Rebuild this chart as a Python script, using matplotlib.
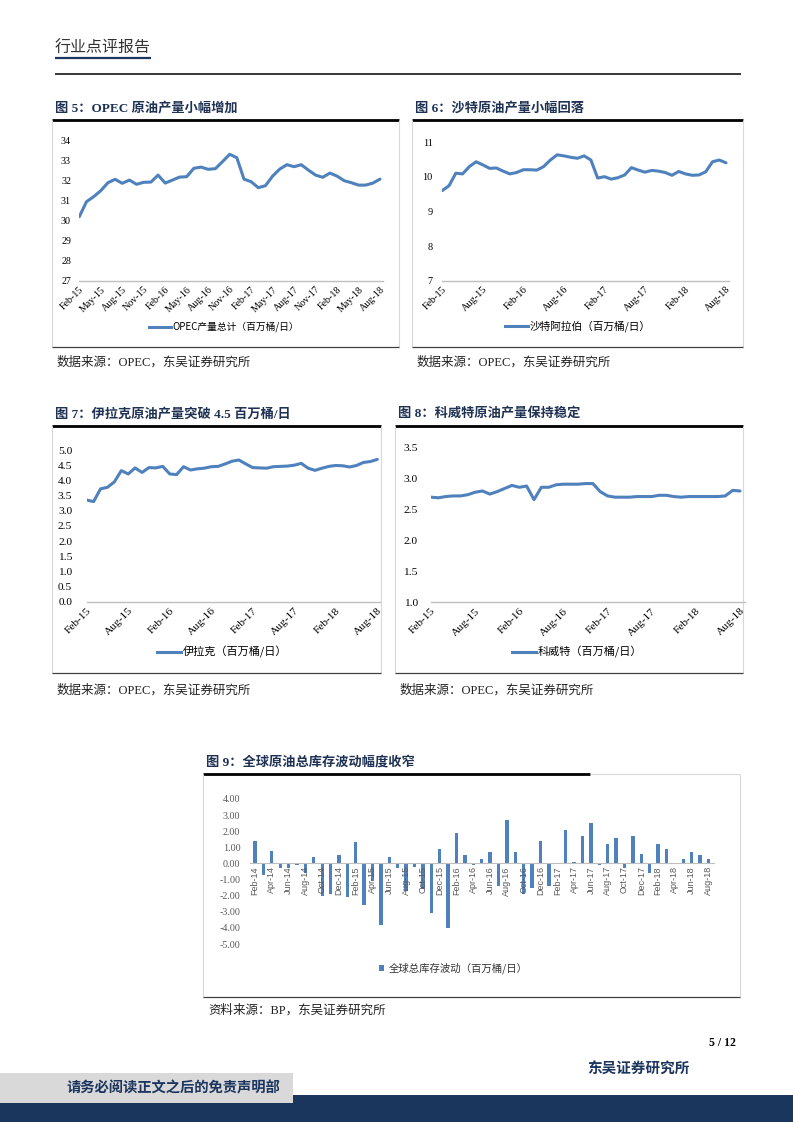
import matplotlib
matplotlib.use('Agg')
import matplotlib.pyplot as plt
from matplotlib.lines import Line2D
from matplotlib.patches import Rectangle
from matplotlib.font_manager import FontProperties

plt.rcParams['font.family'] = ['Liberation Serif', 'Noto Sans CJK SC']

# ---------------- data ----------------
mon = ['Jan', 'Feb', 'Mar', 'Apr', 'May', 'Jun', 'Jul', 'Aug', 'Sep', 'Oct', 'Nov', 'Dec']
line_months = [f'{m}-{y}' for y in (15, 16, 17, 18) for m in mon][1:44]   # Feb-15 .. Aug-18
bar_months = [f'{m}-{y}' for y in (14, 15, 16, 17, 18) for m in mon][1:56]  # Feb-14 .. Aug-18

opec = [30.2, 30.95, 31.2, 31.5, 31.9, 32.07, 31.87, 32.03, 31.82, 31.92, 31.93,
        32.28, 31.88, 32.03, 32.18, 32.2, 32.62, 32.68, 32.57, 32.6, 32.95, 33.32,
        33.15, 32.08, 31.95, 31.65, 31.75, 32.23, 32.58, 32.8, 32.7, 32.8, 32.53,
        32.28, 32.17, 32.38, 32.23, 32.0, 31.9, 31.78, 31.78, 31.88, 32.08]
saudi = [9.6, 9.74, 10.1, 10.08, 10.29, 10.43, 10.34, 10.24, 10.25, 10.16, 10.08,
         10.12, 10.2, 10.2, 10.19, 10.29, 10.48, 10.63, 10.6, 10.56, 10.53, 10.6,
         10.48, 9.96, 10.0, 9.93, 9.97, 10.05, 10.26, 10.19, 10.13, 10.18, 10.16,
         10.12, 10.04, 10.15, 10.08, 10.04, 10.05, 10.14, 10.43, 10.48, 10.4]
iraq = [3.35, 3.3, 3.72, 3.77, 3.95, 4.32, 4.21, 4.41, 4.26, 4.42, 4.41, 4.46,
        4.21, 4.19, 4.45, 4.34, 4.38, 4.4, 4.45, 4.46, 4.54, 4.63, 4.67, 4.54,
        4.42, 4.41, 4.4, 4.45, 4.46, 4.47, 4.5, 4.56, 4.4, 4.33, 4.4, 4.46,
        4.49, 4.48, 4.44, 4.49, 4.59, 4.62, 4.69]
kuwait = [2.70, 2.69, 2.71, 2.72, 2.72, 2.74, 2.78, 2.80, 2.75, 2.79, 2.84, 2.89,
          2.86, 2.88, 2.66, 2.86, 2.86, 2.90, 2.91, 2.91, 2.91, 2.92, 2.92, 2.79,
          2.72, 2.70, 2.70, 2.70, 2.71, 2.71, 2.71, 2.73, 2.73, 2.71, 2.70, 2.71,
          2.71, 2.71, 2.71, 2.71, 2.72, 2.81, 2.80]
inventory = [1.4, -0.7, 0.8, -0.3, -0.3, -0.1, -0.6, 0.4, -2.0, -1.9, 0.5,
             -2.1, 1.3, -2.6, -1.1, -3.8, 0.4, -0.3, -1.7, -0.2, -1.6, -3.1, 0.9,
             -4.0, 1.9, 0.5, -0.1, 0.3, 0.7, -1.4, 2.7, 0.7, -1.9, -1.5, 1.4,
             -1.4, 0.0, 2.1, 0.1, 1.7, 2.5, -0.1, 1.2, 1.6, -0.3, 1.7, 0.6,
             -0.6, 1.2, 0.9, 0.0, 0.3, 0.7, 0.5, 0.3]

# ---------------- page ----------------
W, H = 793, 1122
BLUE = '#4F81BD'
NAVY = '#1c355e'
TITLE_C = '#1f3254'
fig = plt.figure(figsize=(W / 100, H / 100), dpi=100)
bg = fig.add_axes([0, 0, 1, 1])
bg.set_xlim(0, W)
bg.set_ylim(H, 0)
bg.axis('off')

serif = ['Liberation Serif', 'Noto Sans CJK SC']
cjk = ['Noto Sans CJK SC', 'Liberation Serif']


def hline(x0, x1, y, c='black', lw=1.0):
    bg.plot([x0, x1], [y, y], color=c, lw=lw, solid_capstyle='butt')


def vline(x, y0, y1, c='#d9d9d9', lw=0.8):
    bg.plot([x, x], [y0, y1], color=c, lw=lw, solid_capstyle='butt')


# header
bg.text(55, 48, '行业点评报告', family=cjk, fontsize=11.5, color='#333333', va='center', ha='left')
hline(55, 151, 57.5, c=NAVY, lw=1.6)
hline(55, 741, 74, lw=1.1)

# footer
bg.text(736, 1043, '5 / 12', family=serif, fontsize=8.5, weight='bold', ha='right', va='center')
bg.text(638, 1069, '东吴证券研究所', family=cjk, fontsize=10.5, weight='bold', color=NAVY,
        ha='center', va='center')
bg.add_patch(Rectangle((0, 1095), W, 27, color='#1b365d', lw=0))
bg.add_patch(Rectangle((0, 1073), 293, 30, color='#d9d9d9', lw=0))
bg.text(173, 1088, '请务必阅读正文之后的免责声明部', family=cjk, fontsize=10.3, weight='bold',
        color=NAVY, ha='center', va='center')


def frame(x0, x1, ytop, ybot, title, source, src_y, title_end=None):
    bg.text(x0 + 3, ytop - 12, title, family=serif, fontsize=9.5, weight='bold', color=TITLE_C,
            va='center', ha='left')
    te = x1 if title_end is None else title_end
    hline(x0, te, ytop, lw=2.0)
    if title_end is not None:
        hline(te, x1, ytop, c='#d9d9d9', lw=0.8)
    vline(x0, ytop, ybot)
    vline(x1, ytop, ybot)
    hline(x0, x1, ybot, c='#404040', lw=0.9)
    bg.text(x0 + 5, src_y, source, family=serif, fontsize=9, color='#222222', va='center', ha='left')


def add_ax(x0, x1, y0, y1):
    ax = fig.add_axes([x0 / W, 1 - y1 / H, (x1 - x0) / W, (y1 - y0) / H])
    ax.patch.set_alpha(0)
    return ax


def line_chart(data, px0, pxn, px_end, ptop, pbot, ylim, yticks, yfmt, step, fs,
               label, leg_xy, leg_fs, ypad=4):
    n = len(data)
    dx = (pxn - px0) / (n - 1)
    ax = add_ax(px0, px_end, ptop, pbot)
    ax.plot(range(n), data, color=BLUE, lw=2.2, solid_capstyle='round', solid_joinstyle='round')
    ax.set_xlim(0, (px_end - px0) / dx)
    ax.set_ylim(*ylim)
    for s in ('top', 'right', 'left'):
        ax.spines[s].set_visible(False)
    ax.spines['bottom'].set_color('#bfbfbf')
    ax.spines['bottom'].set_linewidth(1.0)
    ax.set_yticks(yticks)
    ax.set_yticklabels([yfmt.format(v) for v in yticks], fontsize=fs)
    ax.tick_params(axis='y', length=0, pad=ypad)
    ax.set_xticks(list(range(0, n, step)))
    ax.set_xticklabels(line_months[::step], fontsize=fs, rotation=45, ha='right',
                       rotation_mode='anchor')
    ax.tick_params(axis='x', length=0, pad=3)
    h = Line2D([0], [0], color=BLUE, lw=2.2)
    ax.legend(handles=[h], labels=[label], loc='center',
              bbox_to_anchor=(leg_xy[0] / W, 1 - leg_xy[1] / H), bbox_transform=fig.transFigure,
              frameon=False, prop=FontProperties(family=cjk, size=leg_fs),
              handlelength=2.2, handletextpad=0.15, borderpad=0)
    return ax


# Figure 5
frame(52, 399, 120, 347, '图 5：OPEC 原油产量小幅增加', '数据来源：OPEC，东吴证券研究所', 362)
line_chart(opec, 79.3, 380, 383, 140.7, 280.7, (27, 34), list(range(27, 35)), '{:d}', 3, 7.2,
           'OPEC产量总计（百万桶/日）', (224, 327), 7, ypad=6)

# Figure 6
frame(412, 743, 120, 347, '图 6：沙特原油产量小幅回落', '数据来源：OPEC，东吴证券研究所', 362)
line_chart(saudi, 442.3, 726, 729, 142, 280.7, (7, 11), list(range(7, 12)), '{:d}', 6, 7.4,
           '沙特阿拉伯（百万桶/日）', (578, 326), 7.7, ypad=7)

# Figure 7
frame(52, 381, 426, 673, '图 7：伊拉克原油产量突破 4.5 百万桶/日', '数据来源：OPEC，东吴证券研究所', 690)
line_chart(iraq, 86.7, 377.3, 380, 450, 601.7, (0, 5), [i * 0.5 for i in range(11)], '{:.1f}', 6, 8.2,
           '伊拉克（百万桶/日）', (222, 652), 8, ypad=10.5)

# Figure 8
frame(395, 743, 426, 673, '图 8：科威特原油产量保持稳定', '数据来源：OPEC，东吴证券研究所', 690)
line_chart(kuwait, 431, 740, 745, 447.7, 602.3, (1, 3.5), [1.0, 1.5, 2.0, 2.5, 3.0, 3.5], '{:.1f}', 6, 8.2,
           '科威特（百万桶/日）', (577, 652), 8, ypad=9.4)

# Figure 9
frame(203, 740, 774, 997, '图 9：全球原油总库存波动幅度收窄', '资料来源：BP，东吴证券研究所', 1010,
      title_end=590)
n9 = len(inventory)
dx9 = (708.5 - 255) / (n9 - 1)
ax9 = add_ax(250, 714, 799, 944)
ax9.bar(range(n9), inventory, width=0.4, color=BLUE, lw=0)
ax9.set_xlim((250 - 255) / dx9, (714 - 255) / dx9)
ax9.set_ylim(-5, 4)
for s in ('top', 'right', 'left'):
    ax9.spines[s].set_visible(False)
ax9.spines['bottom'].set_position(('data', 0))
ax9.spines['bottom'].set_color('#bfbfbf')
ax9.set_yticks(list(range(-5, 5)))
ax9.set_yticklabels([f'{v:.2f}' for v in range(-5, 5)], fontsize=7.2, color='#595959')
ax9.tick_params(axis='y', length=0, pad=7)
ax9.set_xticks(list(range(0, n9, 2)))
ax9.set_xticklabels(bar_months[::2], fontsize=6.5, rotation=90, family='Liberation Sans',
                    color='#595959', va='top', ha='center')
ax9.tick_params(axis='x', length=0, pad=2)
bg.add_patch(Rectangle((379, 965), 4.5, 6, color=BLUE, lw=0))
bg.text(389, 968, '全球总库存波动（百万桶/日）', family=cjk, fontsize=7.5, color='#333333',
        va='center', ha='left')

fig.savefig('out.png', dpi=100)
